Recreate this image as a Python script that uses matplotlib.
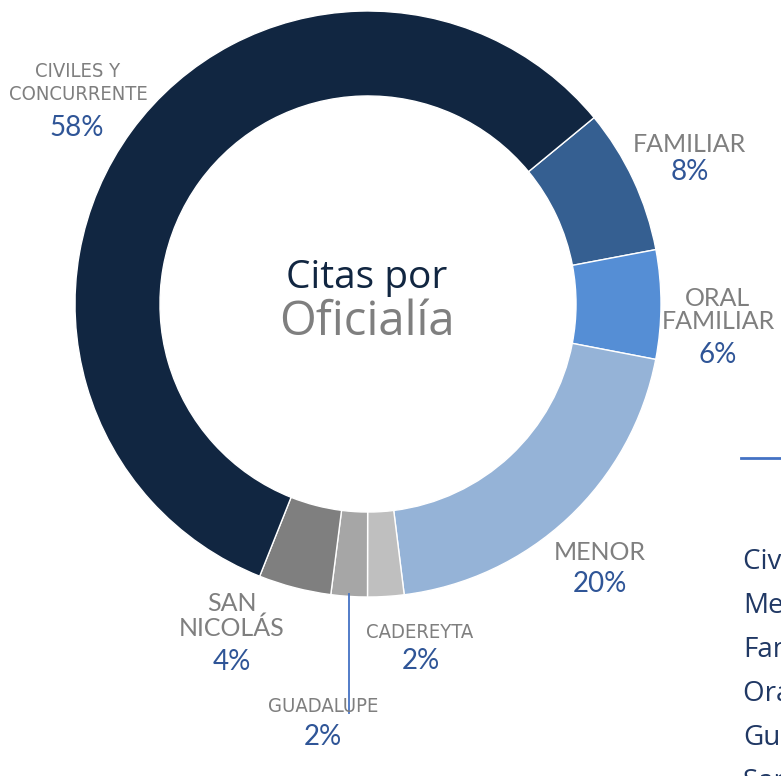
import matplotlib.pyplot as plt
from matplotlib.lines import Line2D

### slices, clockwise from the Familiar wedge
categorias = ["FAMILIAR", "ORAL FAMILIAR", "MENOR", "CADEREYTA", "GUADALUPE", "SAN NICOLÁS", "CIVILES Y CONCURRENTE"]
porcentajes = [8, 6, 20, 2, 2, 4, 58]
colores = ["#355F91", "#558ED5", "#95B3D7", "#BFBFBF", "#A6A6A6", "#7F7F7F", "#112641"]

etiquetas = ["FAMILIAR", "ORAL\nFAMILIAR", "MENOR", "CADEREYTA", "GUADALUPE", "SAN\nNICOLÁS", "CIVILES Y\nCONCURRENTE"]
leyenda = ["Civiles y Concurrente", "Menor", "Familiar", "Oral Familiar", "Guadalupe", "San Nicolás"]

GRIS = "#7F7F7F"
AZUL = "#2F5597"

fig = plt.figure(figsize=(7.81, 7.76), dpi=100)
W, H = 781.0, 776.0
cx, cy, R = 368.0, 304.0, 293.0
ax = fig.add_axes([(cx - R) / W, (H - cy - R) / H, 2 * R / W, 2 * R / H])

ax.pie(porcentajes, colors=colores, startangle=39.5, counterclock=False, radius=1.0,
       wedgeprops=dict(width=0.29, edgecolor="white", linewidth=1.0))
ax.set_xlim(-1, 1)
ax.set_ylim(-1, 1)
ax.set_aspect("equal")
ax.axis("off")


def px(x, y):
    # pixel position in the picture -> data coords of the pie axes
    return (x - cx) / R, (cy - y) / R


# label anchor points (pixels), one per slice
pos_nombre = [(689, 144), (718, 310), (600, 553), (420, 632), (323, 707), (232, 616), (78, 83)]
pos_pct = [(690, 172), (718, 355), (600, 584), (421, 661), (323, 737), (232, 662), (77, 128)]
angostas = ["CADEREYTA", "GUADALUPE", "CIVILES Y CONCURRENTE"]

for cat, et, pn, pp, v in zip(categorias, etiquetas, pos_nombre, pos_pct, porcentajes):
    if cat in angostas:
        ax.text(*px(*pn), et, ha="center", va="center", color=GRIS, fontsize=14.5,
                family="DejaVu Sans", fontstretch="condensed", linespacing=1.3)
    else:
        ax.text(*px(*pn), et, ha="center", va="center", color=GRIS, fontsize=18,
                family="Lato", linespacing=1.05)
    ax.text(*px(*pp), f"{v}%", ha="center", va="center", color=AZUL, fontsize=20, family="Lato")

# leader line for Guadalupe
x0, y0 = px(349, 594)
x1, y1 = px(349, 713)
ax.plot([x0, x1], [y0, y1], color="#4472C4", lw=1.3, clip_on=False)

# center title
ax.text(*px(367, 278), "Citas por", ha="center", va="center", color="#112641", fontsize=28,
        family="Open Sans")
ax.text(*px(367, 322), "Oficialía", ha="center", va="center", color=GRIS, fontsize=34,
        family="Open Sans")

# legend block of the neighbouring chart, cut by the right edge
fig.add_artist(Line2D([741 / W, 1.0], [1 - 458 / H, 1 - 458 / H], color="#4472C4", lw=2))
for i, t in enumerate(leyenda):
    fig.text(743 / W, 1 - (562 + 44 * i) / H, t, ha="left", va="center", color="#203864",
             fontsize=20, family="Open Sans")

fig.savefig("out.png", dpi=100)
